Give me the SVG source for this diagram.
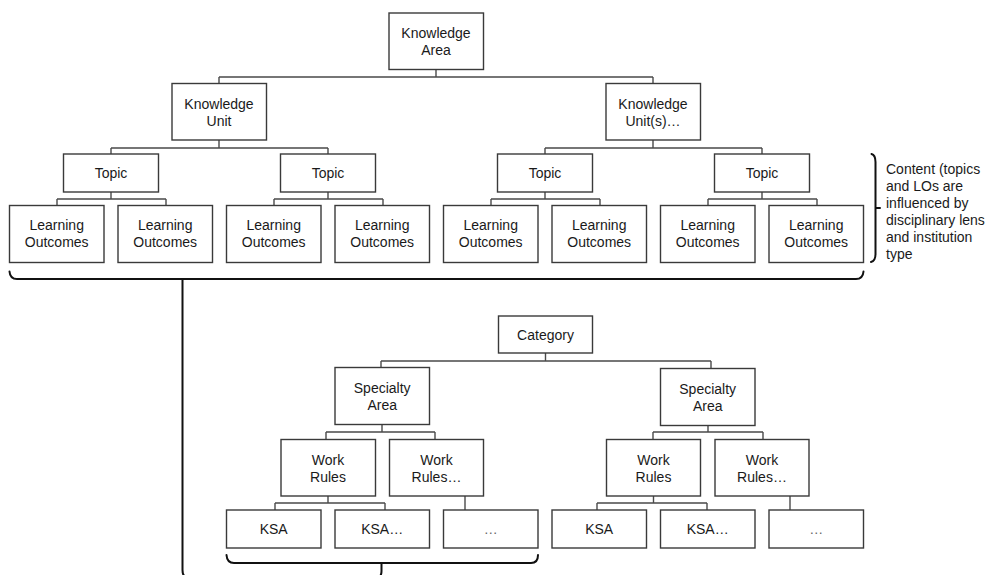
<svg xmlns="http://www.w3.org/2000/svg" width="987" height="575" viewBox="0 0 987 575">
  <style>
    .box { fill: #ffffff; stroke: #3a3a3a; stroke-width: 1.4; }
    .lbl { font-family: "Liberation Sans", Arial, sans-serif; font-size: 14px; fill: #1a1a1a; text-anchor: middle; }
    .note { font-family: "Liberation Sans", Arial, sans-serif; font-size: 14px; fill: #1a1a1a; }
    .conn { fill: none; stroke: #4a4a4a; stroke-width: 1.4; }
    .brace { fill: none; stroke: #111111; stroke-width: 2; stroke-linecap: round; stroke-linejoin: round; }
    .dots { fill: #666666; }
  </style>
  <rect width="987" height="575" fill="#ffffff"/>

  <!-- tree connectors -->
  <g id="connectors">
    <!-- Knowledge Area -> Knowledge Units -->
    <path class="conn" d="M436,69 V77 M219,77 H653 M219,77 V83 M653,77 V83"/>
    <!-- Knowledge Unit -> Topics -->
    <path class="conn" d="M219,140 V148 M111,148 H328 M111,148 V154 M328,148 V154"/>
    <!-- Knowledge Unit(s) -> Topics -->
    <path class="conn" d="M653,140 V148 M545,148 H762 M545,148 V154 M762,148 V154"/>
    <!-- Topics -> Learning Outcomes -->
    <path class="conn" d="M111,192 V199 M57,199 H166 M57,199 V205 M166,199 V205"/>
    <path class="conn" d="M328,192 V199 M274,199 H383 M274,199 V205 M383,199 V205"/>
    <path class="conn" d="M545,192 V199 M491,199 H600 M491,199 V205 M600,199 V205"/>
    <path class="conn" d="M762,192 V199 M708,199 H817 M708,199 V205 M817,199 V205"/>

    <!-- Category -> Specialty Areas -->
    <path class="conn" d="M545.5,353 V361 M381,361 H711 M381,361 V367 M711,361 V368"/>
    <!-- Specialty Area -> Work Rules -->
    <path class="conn" d="M382,424 V432 M326,432 H435 M326,432 V439 M435,432 V439"/>
    <path class="conn" d="M708,426 V432 M653,432 H763 M653,432 V439 M763,432 V439"/>
    <!-- Work Rules -> KSAs -->
    <path class="conn" d="M328,496 V503 M275,503 H385 M275,503 V510 M385,503 V510"/>
    <path class="conn" d="M465,496 V510"/>
    <path class="conn" d="M653.5,496 V503 M597,503 H707 M597,503 V510 M707,503 V510"/>
    <path class="conn" d="M790,496 V510"/>
  </g>

  <!-- grouping brackets -->
  <g id="brackets">
    <!-- content bracket under the learning outcomes -->
    <path class="brace" d="M9.5,271.5 Q10,279 17,279 H856 Q863,279 863.5,271.5"/>
    <!-- link from the content bracket down to the KSA bracket (runs off the lower edge) -->
    <path class="brace" d="M182.5,279 V570 Q182.5,578 189,578 H376 Q381.5,578 381.5,571 V563"/>
    <!-- bracket under the KSA row -->
    <path class="brace" d="M226.5,555 Q227,563 234,563 H531 Q538,563 538,555"/>
    <!-- right-hand brace beside the content -->
    <path class="brace" d="M871.5,154 Q875.5,155 875.5,162 V208 H880 M875.5,208 V254 Q875.5,261 871,262"/>
  </g>

  <!-- knowledge hierarchy -->
  <g id="knowledge-area">
    <rect class="box" x="389" y="13" width="94.5" height="56.5"/>
    <text class="lbl" x="436" y="37.5">Knowledge</text>
    <text class="lbl" x="436" y="54.5">Area</text>
  </g>
  <g id="knowledge-unit">
    <rect class="box" x="172" y="83.5" width="94.5" height="56.5"/>
    <text class="lbl" x="219" y="108.5">Knowledge</text>
    <text class="lbl" x="219" y="125.5">Unit</text>
  </g>
  <g id="knowledge-units-more">
    <rect class="box" x="606" y="83.5" width="94.5" height="56.5"/>
    <text class="lbl" x="653" y="108.5">Knowledge</text>
    <text class="lbl" x="653" y="125.5">Unit(s)…</text>
  </g>

  <g id="topic-1">
    <rect class="box" x="63.5" y="154" width="95" height="38"/>
    <text class="lbl" x="111" y="178">Topic</text>
  </g>
  <g id="topic-2">
    <rect class="box" x="280.5" y="154" width="95" height="38"/>
    <text class="lbl" x="328" y="178">Topic</text>
  </g>
  <g id="topic-3">
    <rect class="box" x="497.5" y="154" width="95" height="38"/>
    <text class="lbl" x="545" y="178">Topic</text>
  </g>
  <g id="topic-4">
    <rect class="box" x="714.5" y="154" width="95" height="38"/>
    <text class="lbl" x="762" y="178">Topic</text>
  </g>

  <g id="lo-1">
    <rect class="box" x="9.5" y="205.5" width="94.5" height="57"/>
    <text class="lbl" x="56.7" y="230">Learning</text>
    <text class="lbl" x="56.7" y="247">Outcomes</text>
  </g>
  <g id="lo-2">
    <rect class="box" x="118" y="205.5" width="94.5" height="57"/>
    <text class="lbl" x="165.2" y="230">Learning</text>
    <text class="lbl" x="165.2" y="247">Outcomes</text>
  </g>
  <g id="lo-3">
    <rect class="box" x="226.5" y="205.5" width="94.5" height="57"/>
    <text class="lbl" x="273.7" y="230">Learning</text>
    <text class="lbl" x="273.7" y="247">Outcomes</text>
  </g>
  <g id="lo-4">
    <rect class="box" x="335" y="205.5" width="94.5" height="57"/>
    <text class="lbl" x="382.2" y="230">Learning</text>
    <text class="lbl" x="382.2" y="247">Outcomes</text>
  </g>
  <g id="lo-5">
    <rect class="box" x="443.5" y="205.5" width="94.5" height="57"/>
    <text class="lbl" x="490.7" y="230">Learning</text>
    <text class="lbl" x="490.7" y="247">Outcomes</text>
  </g>
  <g id="lo-6">
    <rect class="box" x="552" y="205.5" width="94.5" height="57"/>
    <text class="lbl" x="599.2" y="230">Learning</text>
    <text class="lbl" x="599.2" y="247">Outcomes</text>
  </g>
  <g id="lo-7">
    <rect class="box" x="660.5" y="205.5" width="94.5" height="57"/>
    <text class="lbl" x="707.7" y="230">Learning</text>
    <text class="lbl" x="707.7" y="247">Outcomes</text>
  </g>
  <g id="lo-8">
    <rect class="box" x="769" y="205.5" width="94.5" height="57"/>
    <text class="lbl" x="816.2" y="230">Learning</text>
    <text class="lbl" x="816.2" y="247">Outcomes</text>
  </g>

  <g id="content-note">
    <text class="note" x="886" y="173.5">Content (topics</text>
    <text class="note" x="886" y="190.5">and LOs are</text>
    <text class="note" x="886" y="207.5">influenced by</text>
    <text class="note" x="886" y="224.5">disciplinary lens</text>
    <text class="note" x="886" y="241.5">and institution</text>
    <text class="note" x="886" y="258.5">type</text>
  </g>

  <!-- workforce hierarchy -->
  <g id="category">
    <rect class="box" x="498.5" y="316" width="94" height="37"/>
    <text class="lbl" x="545.5" y="339.5">Category</text>
  </g>
  <g id="specialty-area-1">
    <rect class="box" x="335" y="367.5" width="94.5" height="57"/>
    <text class="lbl" x="382.2" y="392.5">Specialty</text>
    <text class="lbl" x="382.2" y="409.5">Area</text>
  </g>
  <g id="specialty-area-2">
    <rect class="box" x="660.5" y="368.5" width="94.5" height="57"/>
    <text class="lbl" x="707.7" y="393.5">Specialty</text>
    <text class="lbl" x="707.7" y="410.5">Area</text>
  </g>

  <g id="work-rules-1">
    <rect class="box" x="281" y="439.5" width="94.5" height="56.5"/>
    <text class="lbl" x="328" y="464.5">Work</text>
    <text class="lbl" x="328" y="481.5">Rules</text>
  </g>
  <g id="work-rules-1-more">
    <rect class="box" x="389.5" y="439.5" width="94" height="56.5"/>
    <text class="lbl" x="436.5" y="464.5">Work</text>
    <text class="lbl" x="436.5" y="481.5">Rules…</text>
  </g>
  <g id="work-rules-2">
    <rect class="box" x="606.5" y="439.5" width="94" height="56.5"/>
    <text class="lbl" x="653.5" y="464.5">Work</text>
    <text class="lbl" x="653.5" y="481.5">Rules</text>
  </g>
  <g id="work-rules-2-more">
    <rect class="box" x="715" y="439.5" width="94" height="56.5"/>
    <text class="lbl" x="762" y="464.5">Work</text>
    <text class="lbl" x="762" y="481.5">Rules…</text>
  </g>

  <g id="ksa-1">
    <rect class="box" x="226.5" y="510" width="94.5" height="38"/>
    <text class="lbl" x="273.7" y="534">KSA</text>
  </g>
  <g id="ksa-1-more">
    <rect class="box" x="335" y="510" width="94.5" height="38"/>
    <text class="lbl" x="382.2" y="534">KSA…</text>
  </g>
  <g id="ksa-1-etc">
    <rect class="box" x="443.5" y="510" width="94.5" height="38"/>
    <text class="lbl dots" x="490.7" y="534">…</text>
  </g>
  <g id="ksa-2">
    <rect class="box" x="552" y="510" width="94.5" height="38"/>
    <text class="lbl" x="599.2" y="534">KSA</text>
  </g>
  <g id="ksa-2-more">
    <rect class="box" x="660.5" y="510" width="94.5" height="38"/>
    <text class="lbl" x="707.7" y="534">KSA…</text>
  </g>
  <g id="ksa-2-etc">
    <rect class="box" x="769" y="510" width="94.5" height="38"/>
    <text class="lbl dots" x="816.2" y="534">…</text>
  </g>
</svg>
